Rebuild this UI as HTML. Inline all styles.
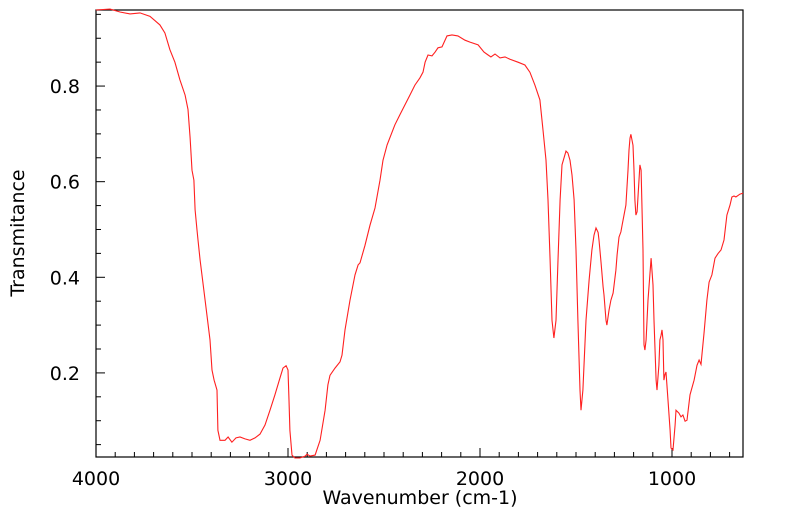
<!DOCTYPE html>
<html><head><meta charset="utf-8"><style>
html,body{margin:0;padding:0;background:#fff;}
svg{display:block;font-family:"DejaVu Sans","Liberation Sans",sans-serif;}
</style></head><body>
<svg id="chart" width="799" height="516" viewBox="0 0 799 516" xmlns="http://www.w3.org/2000/svg">
<rect x="96" y="10" width="647" height="447" fill="none" stroke="#000" stroke-width="1.2"/>
<g id="ticks"></g>
<path id="series" fill="none" stroke="#ff2020" stroke-width="1.1"/>
<text x="420" y="504" font-size="19" text-anchor="middle">Wavenumber (cm-1)</text>
<text x="24" y="233" font-size="19" text-anchor="middle" transform="rotate(-90 24 233)">Transmitance</text>
</svg>
<script>
const wavenumbers=[4000,3927,3875,3823,3771,3719,3667,3641,3615,3589,3563,3536,3521,3510,3500,3490,3484,3474,3469,3458,3432,3406,3396,3385,3370,3365,3354,3328,3312,3292,3271,3250,3224,3198,3172,3146,3120,3094,3068,3042,3026,3010,3000,2995,2990,2979,2964,2938,2911,2901,2885,2859,2833,2807,2792,2781,2755,2729,2719,2703,2677,2651,2635,2625,2599,2573,2547,2521,2505,2484,2443,2417,2365,2339,2313,2297,2286,2271,2250,2234,2219,2198,2172,2146,2115,2078,2052,2010,1979,1958,1943,1922,1896,1870,1844,1802,1766,1740,1714,1688,1672,1656,1646,1635,1625,1615,1604,1594,1583,1573,1563,1552,1542,1531,1521,1510,1500,1490,1479,1474,1464,1448,1432,1417,1406,1396,1385,1380,1370,1359,1354,1344,1339,1328,1318,1307,1292,1286,1276,1266,1260,1250,1240,1229,1224,1219,1214,1203,1198,1193,1188,1182,1167,1161,1151,1146,1141,1135,1125,1109,1099,1094,1083,1078,1068,1063,1057,1052,1047,1042,1037,1031,1021,1010,1005,995,984,979,964,953,943,932,922,906,885,870,859,849,833,818,807,792,776,760,745,729,714,698,688,677,667,646,630];
const transmittance=[0.959,0.961,0.955,0.951,0.953,0.946,0.928,0.911,0.876,0.850,0.813,0.781,0.751,0.692,0.624,0.603,0.541,0.499,0.478,0.436,0.352,0.269,0.206,0.185,0.164,0.080,0.059,0.059,0.066,0.055,0.064,0.066,0.062,0.059,0.064,0.072,0.091,0.122,0.154,0.189,0.210,0.215,0.206,0.143,0.080,0.028,0.022,0.022,0.026,0.030,0.026,0.028,0.059,0.122,0.175,0.195,0.210,0.223,0.237,0.290,0.352,0.405,0.426,0.430,0.467,0.509,0.545,0.603,0.645,0.677,0.719,0.740,0.781,0.802,0.817,0.829,0.850,0.865,0.863,0.871,0.880,0.882,0.905,0.907,0.905,0.896,0.892,0.886,0.871,0.865,0.861,0.867,0.859,0.861,0.856,0.850,0.844,0.829,0.802,0.771,0.708,0.645,0.562,0.436,0.310,0.273,0.310,0.436,0.562,0.635,0.649,0.664,0.660,0.645,0.614,0.562,0.457,0.310,0.164,0.122,0.164,0.310,0.394,0.457,0.488,0.503,0.494,0.478,0.432,0.380,0.363,0.310,0.300,0.331,0.352,0.367,0.415,0.447,0.484,0.495,0.509,0.530,0.551,0.624,0.666,0.691,0.699,0.676,0.624,0.562,0.530,0.537,0.635,0.624,0.457,0.259,0.248,0.269,0.352,0.440,0.384,0.310,0.185,0.164,0.216,0.269,0.279,0.290,0.269,0.185,0.196,0.202,0.143,0.080,0.043,0.039,0.091,0.122,0.116,0.108,0.112,0.099,0.101,0.154,0.185,0.216,0.227,0.218,0.285,0.352,0.390,0.405,0.440,0.450,0.457,0.478,0.530,0.551,0.568,0.570,0.568,0.574,0.576];
const xTickLabels=[4000,3000,2000,1000];
const yTickLabels=[0.2,0.4,0.6,0.8];

const NS="http://www.w3.org/2000/svg";
const X0=96,X1=743,Y0=10,Y1=457;
const xMax=4000,xMin=630.2,yMin=0.0241,yMax=0.9591;
function xs(v){return X0+(xMax-v)/(xMax-xMin)*(X1-X0);}
function ys(v){return Y1-(v-yMin)/(yMax-yMin)*(Y1-Y0);}

let d="";
for(let i=0;i<wavenumbers.length;i++){d+=(i?"L":"M")+xs(wavenumbers[i]).toFixed(1)+" "+ys(transmittance[i]).toFixed(1);}
document.getElementById("series").setAttribute("d",d);

const g=document.getElementById("ticks");
function line(x1,y1,x2,y2,name){
  const l=document.createElementNS(NS,"line");
  l.setAttribute("x1",x1);l.setAttribute("y1",y1);l.setAttribute("x2",x2);l.setAttribute("y2",y2);
  l.setAttribute("stroke","#000");l.setAttribute("stroke-width","1");
  
  
  g.appendChild(l);
}
function text(x,y,s,anchor,name){
  const t=document.createElementNS(NS,"text");
  t.setAttribute("x",x);t.setAttribute("y",y);t.setAttribute("font-size","19");t.setAttribute("text-anchor",anchor);
  t.textContent=s;
  
  
  g.appendChild(t);
}
for(let w=3900;w>=700;w-=100){
  if(w%1000===0) continue;
  line(xs(w),Y1,xs(w),Y1-5,"x-minor-tick");
}
xTickLabels.forEach(w=>{
  line(xs(w),Y1,xs(w),Y1-9,"x-major-tick");
  text(xs(w),485,String(w),"middle","x-tick-label");
});
for(let k=1;k<=19;k++){
  const v=k*0.05;
  if(v<yMin||v>yMax) continue;
  if(k%4===0) continue;
  line(X0,ys(v),X0+5,ys(v),"y-minor-tick");
}
yTickLabels.forEach(v=>{
  line(X0,ys(v),X0+9,ys(v),"y-major-tick");
  text(80,ys(v)+7,v.toFixed(1),"end","y-tick-label");
});
</script>
</body></html>
